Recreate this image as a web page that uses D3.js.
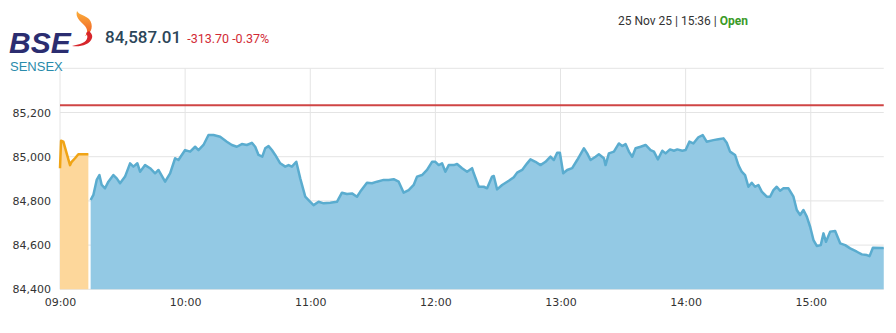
<!DOCTYPE html>
<html>
<head>
<meta charset="utf-8">
<script src="https://cdn.jsdelivr.net/npm/d3@7"></script>
<style>
  html, body { margin: 0; padding: 0; background: #fff; }
  svg { display: block; }
  .axis text { font-family: "DejaVu Sans", Verdana, sans-serif; font-size: 11px; fill: #333; }
</style>
</head>
<body>
<svg id="chart" width="896" height="333"></svg>
<script>
// ---- Data (minutes after 09:00, index value) ----
const preOpenMinutes = [0, 0.5, 1.6, 4.8, 5.6, 7.2, 8.8, 13.6];
const preOpenValues  = [84948, 85072, 85068, 84962, 84977, 84993, 85011, 85011];

const sessionMinutes = [
  14.7, 16.0, 17.6, 18.9, 20.0, 21.6, 23.2, 25.6, 27.2, 28.8, 31.2, 33.6, 35.2, 37.1, 38.4, 40.8,
  43.2, 45.6, 47.2, 50.4, 52.8, 55.2, 56.8, 60.0, 62.4, 64.8, 66.4, 68.8, 71.2, 73.6, 76.8, 80.0,
  82.4, 84.8, 87.2, 89.6, 92.0, 93.6, 95.2, 97.0, 98.4, 100.0, 101.6, 103.2, 105.6, 108.0, 109.6,
  111.2, 113.3, 115.2, 117.6, 120.0, 121.6, 124.0, 126.4, 129.6, 132.8, 135.2, 137.6, 140.0, 142.4,
  144.0, 147.2, 149.6, 152.0, 155.2, 157.6, 160.0, 162.4, 164.8, 167.2, 169.6, 171.2, 173.6, 176.0,
  178.4, 180.0, 181.6, 183.2, 184.8, 186.4, 188.8, 190.4, 192.8, 195.2, 197.6, 198.4, 200.8, 203.2,
  204.8, 207.2, 208.0, 209.6, 212.0, 215.2, 217.6, 219.2, 221.6, 224.0, 225.6, 228.0, 230.4, 232.8,
  235.2, 236.8, 238.4, 239.7, 241.3, 243.2, 245.6, 248.0, 251.2, 252.8, 254.4, 256.8, 258.4, 260.8,
  261.6, 263.2, 265.6, 268.0, 269.6, 271.2, 272.8, 274.4, 276.0, 278.4, 280.8, 283.2, 284.8, 286.7,
  288.8, 290.4, 292.5, 294.4, 296.0, 298.4, 300.0, 301.8, 303.7, 306.1, 308.2, 310.1, 313.3, 315.7,
  318.1, 319.7, 321.3, 323.7, 325.3, 326.9, 328.5, 330.1, 331.7, 333.3, 334.9, 336.5, 338.9, 340.5,
  342.1, 343.7, 345.3, 346.9, 349.3, 351.7, 353.3, 354.9, 356.5, 358.1, 359.7, 361.3, 362.9, 364.8,
  366.1, 367.3, 369.3, 371.7, 374.1, 376.5, 378.9, 382.1, 384.5, 386.9, 388.2, 389.8, 395.0
];
const sessionValues = [
  84804, 84827, 84895, 84917, 84872, 84857, 84887, 84917, 84902, 84880, 84910, 84970, 84955, 84970, 84932, 84962,
  84948, 84925, 84940, 84887, 84925, 84993, 84985, 85030, 85023, 85045, 85030, 85053, 85098, 85098, 85090, 85068,
  85053, 85045, 85057, 85053, 85063, 85045, 85008, 85000, 85038, 85048, 85030, 85008, 84970, 84955, 84962,
  84955, 84977, 84902, 84819, 84796, 84781, 84796, 84789, 84792, 84796, 84837, 84831, 84834, 84819,
  84842, 84882, 84880, 84887, 84895, 84895, 84898, 84887, 84837, 84849, 84872, 84910, 84917, 84940,
  84977, 84977, 84962, 84970, 84932, 84962, 84962, 84967, 84948, 84932, 84948, 84925, 84864, 84864,
  84857, 84910, 84913, 84852, 84872, 84891, 84907, 84928, 84940, 84970, 84988, 84977, 84962, 84977,
  85000, 84985, 85018, 85018, 84925, 84940, 84948, 84985, 85038, 85015, 84985, 85000, 85011, 84993,
  84962, 85015, 85023, 85060, 85048, 85057, 85023, 85000, 85038, 85045, 85053, 85030, 85023, 84988,
  85027, 85015, 85033, 85027, 85033, 85027, 85030, 85068, 85060, 85088, 85098, 85068, 85075, 85079,
  85083, 85063, 85023, 85008, 84962, 84932, 84917, 84864, 84882, 84864, 84872, 84842, 84819, 84819,
  84849, 84864, 84846, 84857, 84857, 84819, 84759, 84736, 84759, 84729, 84683, 84623, 84596, 84600,
  84653, 84615, 84661, 84664, 84608, 84600, 84585, 84570, 84558, 84555, 84550, 84588, 84587
];

const xTickMinutes = [0, 60, 120, 180, 240, 300, 360];
const xTickLabels  = ["09:00", "10:00", "11:00", "12:00", "13:00", "14:00", "15:00"];
const yTickValues  = [84400, 84600, 84800, 85000, 85200];
const yGridValues  = [84400, 84600, 84800, 85000, 85200, 85400];
const referenceLevel = 85233;

const headerValue  = "84,587.01";
const headerChange = "-313.70 -0.37%";
const headerDate   = "25 Nov 25 | 15:36 | ";
const headerStatus = "Open";

// ---- Drawing ----
const svg = d3.select("#chart");
const x = d3.scaleLinear().domain([0, 395]).range([60, 883.75]);
const y = d3.scaleLinear().domain([84400, 85400]).range([289.3, 68.3]);

const pre = preOpenMinutes.map((m, i) => ({ m, v: preOpenValues[i] }));
const ses = sessionMinutes.map((m, i) => ({ m, v: sessionValues[i] }));

// grid
svg.append("g").selectAll("line").data(yGridValues).join("line")
  .attr("x1", x(0)).attr("x2", x(395))
  .attr("y1", d => y(d)).attr("y2", d => y(d))
  .attr("stroke", "#e4e4e4").attr("stroke-width", 1);
svg.append("g").selectAll("line").data(xTickMinutes).join("line")
  .attr("x1", d => x(d)).attr("x2", d => x(d))
  .attr("y1", y(85400)).attr("y2", y(84400))
  .attr("stroke", "#e4e4e4").attr("stroke-width", 1);

// areas
const area = d3.area().x(d => x(d.m)).y0(y(84400)).y1(d => y(d.v));
const line = d3.line().x(d => x(d.m)).y(d => y(d.v));

svg.append("path").datum(pre).attr("d", area).attr("fill", "#fdd79b");
svg.append("path").datum(pre).attr("d", line).attr("fill", "none")
  .attr("stroke", "#f0a415").attr("stroke-width", 2.5).attr("stroke-linejoin", "round");

svg.append("path").datum(ses).attr("d", area).attr("fill", "#93c9e4");
svg.append("path").datum(ses).attr("d", line).attr("fill", "none")
  .attr("stroke", "#5aaccf").attr("stroke-width", 2.5).attr("stroke-linejoin", "round");

// reference line
svg.append("line")
  .attr("x1", x(0)).attr("x2", x(395))
  .attr("y1", y(referenceLevel)).attr("y2", y(referenceLevel))
  .attr("stroke", "#cf4545").attr("stroke-width", 2);

// axes
const yAxis = d3.axisLeft(y).tickValues(yTickValues).tickFormat(d3.format(",")).tickSize(0).tickPadding(9);
svg.append("g").attr("class", "axis").attr("transform", `translate(${x(0)},0)`).call(yAxis)
  .call(g => g.select(".domain").remove());

const xAxis = d3.axisBottom(x).tickValues(xTickMinutes).tickFormat((d, i) => xTickLabels[i]).tickSize(0).tickPadding(9);
svg.append("g").attr("class", "axis").attr("transform", `translate(0,${y(84400)})`).call(xAxis)
  .call(g => g.select(".domain").remove());

// header: logo
svg.append("text").attr("x", 9).attr("y", 52.5)
  .attr("font-family", "Liberation Sans, Arial, sans-serif").attr("font-weight", "bold").attr("font-style", "italic")
  .attr("font-size", 30).attr("fill", "#2b2d70").text("BSE");
svg.append("text").attr("x", 10).attr("y", 70.5)
  .attr("font-family", "Liberation Sans, Arial, sans-serif").attr("font-size", 13).attr("fill", "#2a8bab").text("SENSEX");

const defs = svg.append("defs");
const grad = defs.append("linearGradient").attr("id", "flame").attr("x1", 0).attr("y1", 0).attr("x2", 0).attr("y2", 1);
grad.append("stop").attr("offset", "0%").attr("stop-color", "#fbb03b");
grad.append("stop").attr("offset", "100%").attr("stop-color", "#ef5a24");
svg.append("path")
  .attr("d", "M77,11 C75,17 80,21 84,25 C88,29 88,33 85,36 C92,33 94,25 89,19 C85,15 79,15 77,11 Z")
  .attr("fill", "url(#flame)");
svg.append("path")
  .attr("d", "M86,33 C89,37 87,42 80,44 L72,46 C80,47 90,45 92,38 C93,35 91,33 89,31 Z")
  .attr("fill", "#d7262c");

// header: value
const valText = svg.append("text").attr("x", 105).attr("y", 43)
  .attr("font-family", "Roboto, sans-serif").attr("font-size", 17).attr("font-weight", 500)
  .attr("fill", "#2c4659").text(headerValue);
const valEnd = 105 + valText.node().getComputedTextLength();
svg.append("text").attr("x", Math.max(183, valEnd + 6)).attr("y", 43)
  .attr("font-family", "Roboto, sans-serif").attr("font-size", 12.5).attr("fill", "#d22a35").text(headerChange);

// header: date
const dt = svg.append("text").attr("x", 618).attr("y", 25)
  .attr("font-family", "Roboto, sans-serif").attr("font-size", 12).attr("fill", "#333");
dt.append("tspan").text(headerDate);
dt.append("tspan").attr("fill", "#3a9a27").attr("font-weight", "bold").text(headerStatus);
</script>
</body>
</html>
